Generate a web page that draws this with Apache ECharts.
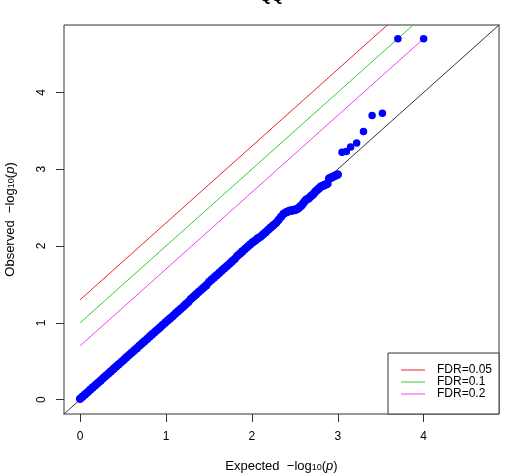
<!DOCTYPE html>
<html>
<head>
<meta charset="utf-8">
<script src="https://cdn.jsdelivr.net/npm/echarts@6/dist/echarts.min.js"></script>
<style>
html,body{margin:0;padding:0;background:#fff;}
#chart{width:506px;height:475px;}
</style>
</head>
<body>
<div id="chart"></div>
<script>
// ---- data ----
var expected = [
  0.00,0.03,0.06,0.09,0.12,0.15,0.18,0.21,0.24,0.27,0.30,0.33,0.36,0.39,0.42,0.45,0.48,0.51,0.54,0.57,
  0.60,0.63,0.66,0.69,0.72,0.75,0.78,0.81,0.84,0.87,0.90,0.93,0.96,0.99,1.02,1.05,1.08,1.11,1.14,1.17,
  1.20,1.23,1.26,1.29,1.32,1.35,1.38,1.41,1.44,1.47,1.50,1.53,1.56,1.59,1.62,1.65,1.68,1.71,1.74,1.77,
  1.80,1.83,1.86,1.89,1.92,1.95,1.98,2.01,2.04,2.07,2.10,2.13,2.16,2.19,2.22,2.25,2.28,2.31,2.34,2.37,
  2.40,2.42,2.44,2.46,2.48,2.50,2.52,2.54,2.56,2.58,2.60,2.62,2.64,2.66,2.68,2.70,2.72,2.74,2.76,2.78,
  2.80,2.82,2.84,2.86,2.88,2.90,2.92,2.94,2.96,2.98,3.00,
  3.05,3.10,3.15,3.22,3.30,3.40,3.52,3.70,4.00
];
var observed = [
  0.01,0.04,0.07,0.10,0.13,0.16,0.19,0.22,0.25,0.28,0.31,0.34,0.37,0.40,0.43,0.46,0.49,0.52,0.55,0.58,
  0.61,0.64,0.67,0.70,0.73,0.76,0.79,0.82,0.85,0.88,0.91,0.94,0.97,1.00,1.03,1.06,1.09,1.12,1.15,1.18,
  1.21,1.24,1.27,1.31,1.34,1.37,1.40,1.43,1.46,1.49,1.53,1.56,1.59,1.62,1.65,1.68,1.71,1.74,1.77,1.80,
  1.83,1.87,1.90,1.93,1.96,1.99,2.02,2.05,2.07,2.10,2.12,2.15,2.18,2.21,2.24,2.27,2.30,2.34,2.38,2.42,
  2.44,2.45,2.46,2.46,2.47,2.47,2.48,2.49,2.51,2.53,2.56,2.59,2.61,2.62,2.64,2.66,2.68,2.71,2.73,2.75,
  2.77,2.78,2.79,2.80,2.81,2.88,2.89,2.90,2.91,2.92,2.93,
  3.22,3.23,3.29,3.34,3.49,3.70,3.73,4.70,4.70
];
var fdrNames = ['FDR=0.05','FDR=0.1','FDR=0.2'];
var fdrIntercepts = [1.30, 1.00, 0.70];
var fdrColors = ['#ee2222','#33cc33','#ee44ee'];
var lineXStart = 0.00, lineXEnd = 4.00;
var xTicks = [0,1,2,3,4];
var yTicks = [0,1,2,3,4];
var axisMin = -0.1876, axisMax = 4.8776;

// ---- build ----
var font = 'Liberation Sans, Arial, Helvetica, sans-serif';
var pts = expected.map(function(e,i){ return [e, observed[i]]; });
var series = [];
series.push({
  type:'line', data:[[axisMin-1, axisMin-1],[axisMax+1, axisMax+1]],
  symbol:'none', lineStyle:{color:'#333', width:1}, silent:true, z:2, clip:true
});
fdrNames.forEach(function(n,i){
  series.push({
    name:n, type:'line',
    data:[[lineXStart, lineXStart+fdrIntercepts[i]],[lineXEnd, lineXEnd+fdrIntercepts[i]]],
    symbol:'none', lineStyle:{color:fdrColors[i], width:1}, itemStyle:{color:fdrColors[i]},
    silent:true, z:2, clip:true
  });
});
series.push({
  type:'scatter', data:pts, symbol:'circle',
  symbolSize:function(v){ return v[0] > 3.02 ? 7.5 : 8.5; },
  itemStyle:{color:'#0000ff', opacity:1}, silent:true, z:5
});

var chart = echarts.init(document.getElementById('chart'), null, {renderer:'canvas'});
chart.setOption({
  animation:false,
  backgroundColor:'#fff',
  textStyle:{fontFamily:font},
  grid:{left:64, right:7, top:25, bottom:61, show:true, borderColor:'#333', borderWidth:1, containLabel:false},
  xAxis:{
    type:'value', min:axisMin, max:axisMax,
    splitLine:{show:false}, axisLine:{show:false, onZero:false},
    axisTick:{show:true, inside:false, customValues:xTicks, length:8, lineStyle:{color:'#333'}},
    axisLabel:{customValues:xTicks, margin:17, fontSize:12, color:'#000', fontFamily:font}
  },
  yAxis:{
    type:'value', min:axisMin, max:axisMax,
    splitLine:{show:false}, axisLine:{show:false, onZero:false},
    axisTick:{show:true, inside:false, customValues:yTicks, length:8, lineStyle:{color:'#333'}},
    axisLabel:{customValues:yTicks, margin:16, fontSize:12, color:'#000', rotate:90, fontFamily:font}
  },
  legend:{
    data:fdrNames.map(function(n){ return {name:n, icon:'rect'}; }),
    orient:'vertical', left:388, top:353,
    itemWidth:24, itemHeight:1, itemGap:0,
    padding:[11,7,14,13],
    borderColor:'#333', borderWidth:1, backgroundColor:'#fff',
    selectedMode:false,
    textStyle:{fontSize:12, lineHeight:12, color:'#000', fontFamily:font, padding:[0,0,0,7]}
  },
  graphic:[
    {type:'text', x:271.5, y:4, style:{text:'QQ', font:'bold 15px '+font, fill:'#000', textAlign:'center', textVerticalAlign:'bottom'}},
    {type:'text', x:281.5, y:466, style:{
      text:'Expected  \u2212log{s|10}({i|p})', fontSize:13, fontFamily:font, fill:'#000',
      textAlign:'center', textVerticalAlign:'middle',
      rich:{s:{fontSize:9, fontFamily:font, verticalAlign:'bottom', lineHeight:11}, i:{fontSize:13, fontStyle:'italic', fontFamily:font}}
    }},
    {type:'text', x:10, y:219.5, rotation:Math.PI/2, style:{
      text:'Observed  \u2212log{s|10}({i|p})', fontSize:13, fontFamily:font, fill:'#000',
      textAlign:'center', textVerticalAlign:'middle',
      rich:{s:{fontSize:9, fontFamily:font, verticalAlign:'bottom', lineHeight:11}, i:{fontSize:13, fontStyle:'italic', fontFamily:font}}
    }}
  ],
  series:series
});
</script>
</body>
</html>
